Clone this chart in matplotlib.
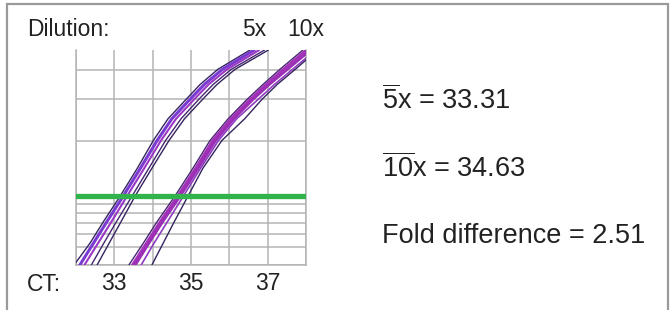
import matplotlib
matplotlib.use("Agg")
import matplotlib.pyplot as plt
from matplotlib.patches import Rectangle

plt.rcParams['font.family'] = ['Liberation Sans', 'DejaVu Sans']
plt.rcParams['mathtext.fontset'] = 'custom'
plt.rcParams['mathtext.rm'] = 'Liberation Sans'
plt.rcParams['mathtext.it'] = 'Liberation Sans:italic'

# ---------------- data ----------------
# relative fluorescence levels (0 = bottom of plot, 100 = top)
fluor_levels = [0, 10, 20, 32, 45, 58, 68, 77, 84, 91, 100]

# cycle number (CT axis) at which each replicate reaches the levels above
curves_5x = [
    [31.95, 32.36, 32.71, 33.15, 33.60, 34.02, 34.40, 34.87, 35.24, 35.70, 36.54],
    [32.10, 32.45, 32.80, 33.23, 33.68, 34.12, 34.50, 34.97, 35.35, 35.82, 36.65],
    [32.22, 32.57, 32.92, 33.33, 33.78, 34.22, 34.61, 35.08, 35.46, 35.94, 36.78],
    [32.40, 32.72, 33.05, 33.46, 33.90, 34.34, 34.74, 35.20, 35.58, 36.05, 36.92],
    [32.55, 32.86, 33.17, 33.54, 33.98, 34.43, 34.83, 35.30, 35.68, 36.15, 37.02],
]
curves_10x = [
    [33.38, 33.75, 34.11, 34.58, 35.05, 35.50, 35.97, 36.46, 36.88, 37.32, 37.92],
    [33.48, 33.84, 34.20, 34.66, 35.13, 35.58, 36.05, 36.55, 36.97, 37.42, 38.02],
    [33.55, 33.90, 34.26, 34.72, 35.19, 35.65, 36.12, 36.62, 37.05, 37.52, 38.12],
    [33.70, 34.03, 34.38, 34.80, 35.25, 35.72, 36.19, 36.75, 37.18, 37.65, 38.25],
    [33.98, 34.27, 34.56, 34.92, 35.31, 35.81, 36.40, 36.85, 37.25, 37.72, 38.30],
]
threshold = 32.1

ct_ticks = [32, 33, 34, 35, 36, 37, 38]
ct_labels = ['', '33', '', '35', '', '37', '']
fluor_grid = [0, 8.4, 14.4, 19.5, 24.4, 28.4, 57.7, 77.0, 90.7]

dilutions = ['5x', '10x']
mean_ct = [33.31, 34.63]
fold_difference = 2.51

# ---------------- figure ----------------
W, H = 672, 310
fig = plt.figure(figsize=(W / 100, H / 100), dpi=100)

def fx(px):
    return px / W

def fy(py):
    return 1 - py / H

ax = fig.add_axes([fx(76), fy(265), fx(306) - fx(76), fy(50) - fy(265)])
ax.set_xlim(ct_ticks[0], ct_ticks[-1])
ax.set_ylim(0, 100)

grid_col = '#b4b4b4'
ax.set_xticks(ct_ticks)
ax.set_xticklabels(ct_labels)
ax.set_yticks(fluor_grid)
ax.set_yticklabels([])
ax.tick_params(length=0, labelsize=16.5, labelcolor='#222222', pad=5)
ax.grid(True, color=grid_col, linewidth=1.1)
for s in ['left', 'right', 'bottom']:
    ax.spines[s].set_color(grid_col)
    ax.spines[s].set_linewidth(1.1)
ax.spines['top'].set_visible(False)
ax.set_axisbelow(True)

style_5x = [('#35245f', 1.0), ('#7a3ad2', 2.2), ('#9b37c4', 1.5), ('#45276f', 1.0), ('#35245f', 1.0)]
style_10x = [('#45276f', 1.0), ('#a332b8', 2.4), ('#9a2fb6', 1.8), ('#8e3bc0', 1.2), ('#35245f', 1.0)]

for cv, (c, lw) in zip(curves_5x, style_5x):
    ax.plot(cv, fluor_levels, color=c, lw=lw, solid_capstyle='round',
            solid_joinstyle='round', zorder=3)
for cv, (c, lw) in zip(curves_10x, style_10x):
    ax.plot(cv, fluor_levels, color=c, lw=lw, solid_capstyle='round',
            solid_joinstyle='round', zorder=3)

ax.axhline(threshold, color='#2fb34a', lw=3.8, zorder=4)

txt = '#222222'
fig.text(fx(27), fy(36), 'Dilution:', fontsize=16.5, color=txt, va='baseline', ha='left')
fig.text(fx(254), fy(36), dilutions[0], fontsize=16.5, color=txt, va='baseline', ha='center')
fig.text(fx(306), fy(36), dilutions[1], fontsize=16.5, color=txt, va='baseline', ha='center')
fig.text(fx(27), fy(291), 'CT:', fontsize=16.5, color=txt, va='baseline', ha='left')

fig.text(fx(382), fy(109), r'$\overline{\mathrm{5}}$x = %.2f' % mean_ct[0],
         fontsize=19.5, color=txt, va='baseline', ha='left')
fig.text(fx(382), fy(177), r'$\overline{\mathrm{10}}$x = %.2f' % mean_ct[1],
         fontsize=19.5, color=txt, va='baseline', ha='left')
fig.text(fx(382), fy(243), 'Fold difference = %.2f' % fold_difference,
         fontsize=19.5, color=txt, va='baseline', ha='left')

fig.patches.append(Rectangle((fx(7), fy(330)), fx(668) - fx(7), fy(4) - fy(330),
                             transform=fig.transFigure, fill=False,
                             edgecolor='#9a9a9a', lw=1.6, clip_on=False))

fig.savefig('out.png', dpi=100)
